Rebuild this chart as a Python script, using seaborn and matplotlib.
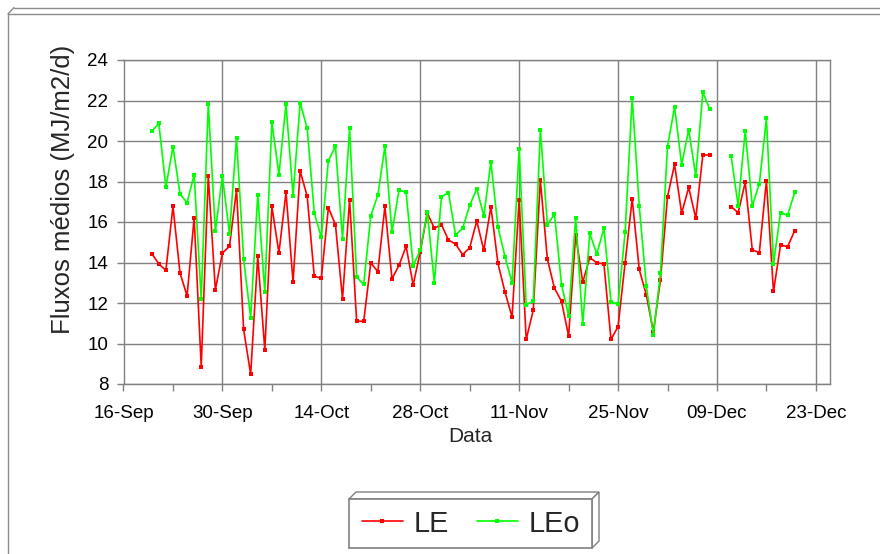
import numpy as np
import pandas as pd
import matplotlib
matplotlib.use("Agg")
import matplotlib.pyplot as plt
from matplotlib.lines import Line2D
from matplotlib.patches import Polygon, Rectangle
import seaborn as sns

# ---------------- data ----------------
start_date = "2005-09-20"
n_days = 92
LE = [14.44, 13.93, 13.61, 16.77, 13.48, 12.35, 16.21, 8.86, 18.27, 12.64,
      14.47, 14.80, 17.60, 10.70, 8.48, 14.30, 9.69, 16.77, 14.47, 17.46,
      13.04, 18.52, 17.27, 13.32, 13.22, 16.71, 15.87, 12.20, 17.10, 11.10,
      11.10, 13.98, 13.55, 16.77, 13.20, 13.86, 14.80, 12.89, 14.53, 16.44,
      15.69, 15.87, 15.11, 14.91, 14.39, 14.73, 16.05, 14.60, 16.76, 13.96,
      12.53, 11.31, 17.09, 10.20, 11.65, 18.07, 14.16, 12.73, 12.08, 10.37,
      15.37, 13.02, 14.24, 13.99, 13.93, 10.20, 10.83, 13.99, 17.15, 13.66,
      12.40, 10.58, 13.14, 17.25, 18.85, 16.43, 17.71, 16.18, 19.31, 19.31,
      np.nan, np.nan, 16.76, 16.46, 17.96, 14.62, 14.49, 18.04, 12.57, 14.86,
      14.78, 15.57]
LEo = [20.48, 20.87, 17.71, 19.72, 17.38, 16.95, 18.34, 12.20, 21.83, 15.54,
       18.27, 15.42, 20.16, 14.16, 11.26, 17.35, 12.54, 20.94, 18.34, 21.83,
       17.30, 21.89, 20.63, 16.46, 15.24, 19.03, 19.74, 15.18, 20.63, 13.27,
       12.92, 16.31, 17.32, 19.74, 15.49, 17.58, 17.46, 13.84, 14.60, 16.49,
       13.00, 17.25, 17.45, 15.36, 15.69, 16.82, 17.65, 16.30, 18.98, 15.75,
       14.29, 13.00, 19.60, 11.92, 12.08, 20.56, 15.85, 16.40, 12.90, 11.37,
       16.21, 10.95, 15.44, 14.42, 15.70, 12.05, 11.95, 15.49, 22.14, 16.79,
       12.84, 10.42, 13.47, 19.72, 21.69, 18.83, 20.56, 18.27, 22.40, 21.56,
       np.nan, np.nan, 19.27, 16.81, 20.51, 16.79, 17.90, 21.12, 13.93, 16.46,
       16.33, 17.46]
series_names = ["LE", "LEo"]
series_colors = ["#ff0000", "#00ff00"]
x_tick_labels = ["16-Sep", "30-Sep", "14-Oct", "28-Oct", "11-Nov", "25-Nov", "09-Dec", "23-Dec"]
y_ticks = [8, 10, 12, 14, 16, 18, 20, 22, 24]
x_label = "Data"
y_label = "Fluxos médios (MJ/m2/d)"

# ---------------- table ----------------
dates = pd.date_range(start_date, periods=n_days, freq="D")
frames = []
for name, vals in zip(series_names, [LE, LEo]):
    s = pd.Series(vals, index=dates)
    seg = s.isna().cumsum()
    d = pd.DataFrame({"Data": dates, "valor": s.values, "serie": name, "seg": seg.values})
    frames.append(d.dropna())
df = pd.concat(frames, ignore_index=True)

# ---------------- style ----------------
sns.set_style("white")
plt.rcParams["font.family"] = ["Liberation Sans", "DejaVu Sans"]

W, H = 880, 554
fig = plt.figure(figsize=(W / 100, H / 100), dpi=100)
fig.patch.set_facecolor("white")

def fx(px):
    return px / W

def fy(py):
    return 1 - py / H

L, R, T, B = 123.5, 830, 60, 384
ax = fig.add_axes([fx(L), fy(B), fx(R) - fx(L), fy(T) - fy(B)])

gray = "#808080"
sns.lineplot(data=df, x="Data", y="valor", hue="serie", units="seg", estimator=None,
             hue_order=series_names, palette=dict(zip(series_names, series_colors)),
             marker="s", markersize=2.8, markeredgewidth=0, linewidth=1.2,
             sort=True, legend=False, ax=ax)

# axes
xmin = pd.Timestamp("2005-09-16")
xmax = pd.Timestamp("2005-12-25")
major = pd.date_range(xmin, periods=len(x_tick_labels), freq="14D")
minor = pd.date_range(xmin + pd.Timedelta(days=7), periods=len(x_tick_labels) - 1, freq="14D")
ax.set_xticks(major)
ax.set_xticklabels(x_tick_labels)
ax.set_xticks(minor, minor=True)
ax.set_yticks(y_ticks)
ax.set_yticklabels([str(v) for v in y_ticks])
ax.set_xlim(xmin, xmax)
ax.set_ylim(8, 24)

ax.grid(True, which="major", color=gray, linewidth=1.0)
ax.set_axisbelow(True)
for sp in ax.spines.values():
    sp.set_color(gray)
    sp.set_linewidth(1.0)
    sp.set_visible(True)
ax.tick_params(axis="both", which="both", direction="out", length=5, width=1.0, color=gray,
               labelsize=13.5, labelcolor="black")
ax.tick_params(axis="x", which="both", bottom=True, pad=10)
ax.tick_params(axis="y", which="both", left=True, pad=6)

ax.set_xlabel(x_label, fontsize=15)
ax.xaxis.set_label_coords((470 - L) / (R - L), (B - 427) / (B - T))
ax.set_ylabel(y_label, fontsize=18.5)
ax.yaxis.set_label_coords((75 - L) / (R - L), (B - 189) / (B - T))

# ---------------- chart-area 3D frame ----------------
fc = "#8c8c8c"
for (xa, ya, xb, yb) in [(8, 14, 880, 14), (14, 7.5, 880, 7.5), (8, 14, 14, 7.5), (8, 14, 8, 554)]:
    fig.add_artist(Line2D([fx(xa), fx(xb)], [fy(ya), fy(yb)], transform=fig.transFigure,
                          color=fc, linewidth=1.0))

# ---------------- legend with 3D box ----------------
lx0, ly0, lx1, ly1, dd = 349, 499, 592, 548, 7
fig.add_artist(Polygon([(fx(lx0), fy(ly0)), (fx(lx0 + dd), fy(ly0 - dd)), (fx(lx1 + dd), fy(ly0 - dd)),
                        (fx(lx1), fy(ly0))], closed=True, transform=fig.transFigure,
                       facecolor="white", edgecolor=gray, linewidth=1.0))
fig.add_artist(Polygon([(fx(lx1), fy(ly0)), (fx(lx1 + dd), fy(ly0 - dd)), (fx(lx1 + dd), fy(ly1 - dd)),
                        (fx(lx1), fy(ly1))], closed=True, transform=fig.transFigure,
                       facecolor="white", edgecolor=gray, linewidth=1.0))
fig.add_artist(Rectangle((fx(lx0), fy(ly1)), fx(lx1) - fx(lx0), fy(ly0) - fy(ly1),
                         transform=fig.transFigure, facecolor="white", edgecolor=gray, linewidth=1.2))

handles = [Line2D([], [], color=c, marker="s", markersize=3.5, markeredgewidth=0, linewidth=1.2)
           for c in series_colors]
leg = fig.legend(handles, series_names, loc="center left", bbox_to_anchor=(fx(362), fy(523.5)),
                 ncol=2, frameon=False, fontsize=20.8, borderpad=0, borderaxespad=0,
                 handlelength=1.41, handletextpad=0.39, columnspacing=0.96, numpoints=1)

fig.savefig("out.png", dpi=100, facecolor="white")
